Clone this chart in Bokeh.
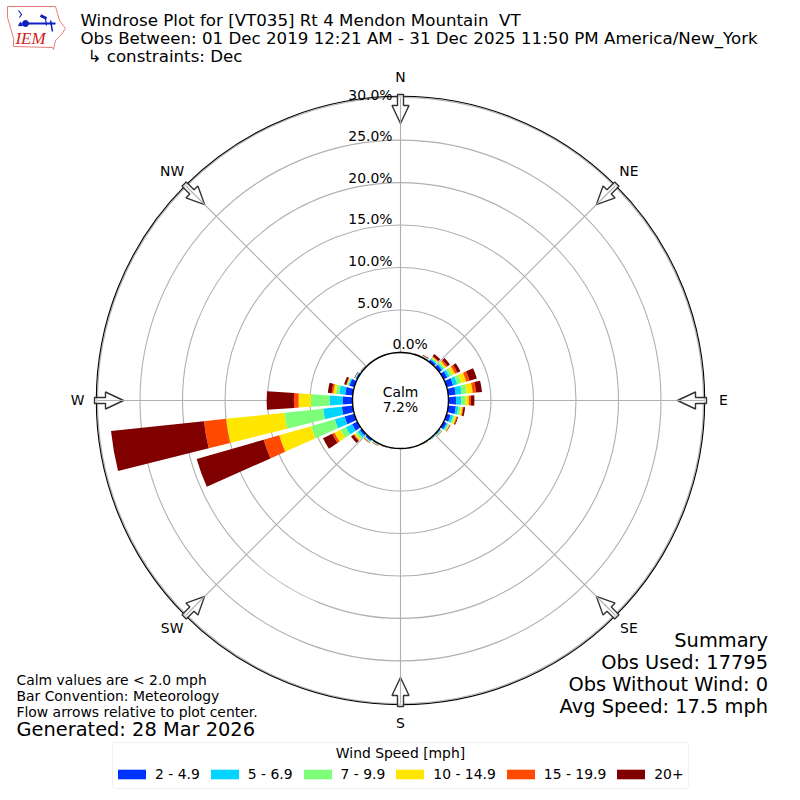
import math
import numpy as np
from bokeh.plotting import figure
from bokeh.embed import file_html
from bokeh.resources import INLINE
from bokeh.core.properties import value
from bokeh.models import Legend, LegendItem, BoxAnnotation

directions = list(range(0, 360, 10))
bin_labels = ["2 - 4.9", "5 - 6.9", "7 - 9.9", "10 - 14.9", "15 - 19.9", "20+"]
bin_colors = ["#0033ff", "#00d4ff", "#7dff7a", "#ffe600", "#ff4a00", "#800000"]
freq_2_5 = [.03,.03,.05,.1,.3,.4,.5,.8,.9,.9,.9,.5,.4,.15,.1,.05,.04,.03,.02,.03,.05,.12,.25,.3,.7,1.2,1.3,1.18,.9,.6,.2,.1,.05,.04,.03,.03]
freq_5_7 = [.02,.02,.03,.05,.15,.2,.3,.5,.7,.6,.3,.3,.15,.1,.05,.05,.03,.02,.01,.02,.03,.06,.1,.3,.8,1.2,2.2,1.52,.7,.15,.08,.03,.03,.02,.02,.01]
freq_7_10 = [.01,.01,.02,.05,.15,.2,.35,.5,.6,.5,.3,.2,.15,.05,.03,.02,.02,.02,.01,.01,.02,.04,.07,.3,.7,2.9,4.6,2.2,.4,.1,.04,.02,.02,.01,.01,.01]
freq_10_15 = [.01,.01,.02,.05,.1,.2,.35,.6,.7,.4,.2,.2,.1,.05,.02,.02,.01,.01,.01,.01,.02,.04,.06,.2,.8,3.9,6.9,1.45,.3,.1,.03,.02,.01,.01,.01,.01]
freq_15_20 = [0,.01,.01,.03,.1,.2,.3,.4,.4,.25,.1,.1,.05,.03,.01,.01,.01,.01,0,.01,.01,.02,.02,.1,.3,1.9,2.6,.55,.2,.05,.02,.01,.01,0,0,0]
freq_20_up = [.01,.02,.02,.07,.3,.35,.4,.9,.7,.4,.2,.1,.05,.02,.01,.01,.01,.01,.01,.02,.02,.04,.05,.35,1.2,8.2,11,3.2,.45,.25,.05,.02,.01,.01,.01,.01]
bins = [freq_2_5, freq_5_7, freq_7_10, freq_10_15, freq_15_20, freq_20_up]
ring_values = [5, 10, 15, 20, 25, 30]
ring_label_values = [0, 5, 10, 15, 20, 25, 30]
ring_label_y = [343, 302, 260, 218, 177, 135, 94]
compass = ["N", "NE", "E", "SE", "S", "SW", "W", "NW"]
title_lines = ["Windrose Plot for [VT035] Rt 4 Mendon Mountain\u00a0\u00a0VT",
               "Obs Between: 01 Dec 2019 12:21 AM - 31 Dec 2025 11:50 PM America/New_York",
               "\u21b3 constraints: Dec"]
summary_lines = ["Summary", "Obs Used: 17795", "Obs Without Wind: 0", "Avg Speed: 17.5 mph"]
note_lines = ["Calm values are < 2.0 mph", "Bar Convention: Meteorology", "Flow arrows relative to plot center."]

W = 800
SCALE = 8.5           # pixels per percent
HOLE = 48 / SCALE     # the calm circle, in percent units
FONT = value("DejaVu Sans")

p = figure(width=W, height=W, output_backend="svg", toolbar_location=None,
           x_range=(-W / 2 / SCALE, W / 2 / SCALE), y_range=(-W / 2 / SCALE, W / 2 / SCALE),
           min_border=0, outline_line_color=None)
p.axis.visible = False
p.grid.visible = False
p.background_fill_color = "white"


def dx(px):
    return (px - 400) / SCALE


def dy(py):
    return (400 - py) / SCALE


def label(x, y, text, size, align="left", baseline="middle", color="black", font=FONT, style="normal"):
    p.text([dx(x)], [dy(y)], text=[text], text_font=font, text_font_size=f"{size}px",
           text_align=align, text_baseline=baseline, text_color=color, text_font_style=style)


# rings and spokes
GRID = "#b0b0b0"
for v in ring_values:
    p.arc(0, 0, radius=HOLE + v, start_angle=0, end_angle=2 * math.pi, line_color=GRID, line_width=1.1)
for k in range(8):
    a = math.radians(90 - 45 * k)
    r = HOLE + 30
    p.line([0, r * math.cos(a)], [0, r * math.sin(a)], line_color=GRID, line_width=1.1)

# stacked bars
renderers = []
bottom = np.full(len(directions), HOLE)
centers = np.radians(90 - np.array(directions, dtype=float))
half = math.radians(4)
for vals, col in zip(bins, bin_colors):
    top = bottom + np.array(vals)
    r = p.annular_wedge(x=0, y=0, inner_radius=bottom, outer_radius=top,
                        start_angle=centers - half, end_angle=centers + half,
                        fill_color=col, line_color=None)
    renderers.append(r)
    bottom = top

# calm hole
p.circle(0, 0, radius=HOLE, fill_color="white", line_color="black", line_width=1.4)
p.arc(0, 0, radius=HOLE + 30 + 1.2 / SCALE, start_angle=0, end_angle=2 * math.pi, line_color="black", line_width=1.1)

# flow arrows
shape = [(306, -3), (295, -3), (295, -8.5), (277, 0), (295, 8.5), (295, 3), (306, 3)]
xs, ys = [], []
for k in range(8):
    a = math.radians(90 - 45 * k)
    c, s = math.cos(a), math.sin(a)
    xs.append([(rr * c - t * s) / SCALE for rr, t in shape])
    ys.append([(rr * s + t * c) / SCALE for rr, t in shape])
p.patches(xs, ys, fill_color="white", fill_alpha=0.8, line_color="#333333", line_width=1.4)
for k in range(8):
    a = math.radians(90 - 45 * k)
    p.line([277 / SCALE * math.cos(a), 303 / SCALE * math.cos(a)],
           [277 / SCALE * math.sin(a), 303 / SCALE * math.sin(a)], line_color=GRID, line_width=1.1)

# labels
for k, name in enumerate(compass):
    a = math.radians(90 - 45 * k)
    label(400 + 323 * math.cos(a), 399 - 323 * math.sin(a), name, 13.9, align="center")
for v, y in zip(ring_label_values, ring_label_y):
    if v == 0:
        label(392, y, f"{v:.1f}%", 13.9, align="left")
    else:
        label(392, y, f"{v:.1f}%", 13.9, align="right")
label(400, 391, "Calm", 13.9, align="center")
label(400, 406, "7.2%", 13.9, align="center")

for line, y, x in zip(title_lines, [20, 38, 56], [80, 80, 87]):
    label(x, y, line, 16.67)
for line, y in zip(summary_lines, [640, 662, 684, 706]):
    label(767.5, y, line, 19.4, align="right")
for line, y in zip(note_lines, [679, 695, 711]):
    label(16, y, line, 13.9)
label(16, 729, "Generated: 28 Mar 2026", 19.4)

# logo
iowa_x = [7, 55, 57, 59, 65, 60, 55, 53, 52, 13, 13, 10, 7]
iowa_y = [6, 6, 13, 20, 28, 35, 40, 49, 47, 46, 38, 27, 17]
p.patch([dx(a) for a in iowa_x], [dy(b) for b in iowa_y], fill_color="white", line_color="#e87a7a", line_width=1)
BLUE = "#1020c0"
p.line([dx(25), dx(55)], [dy(23), dy(23)], line_color=BLUE, line_width=2)
p.line([dx(18), dx(21), dx(19)], [dy(10), dy(14), dy(17)], line_color=BLUE, line_width=1.2)
p.line([dx(40), dx(46)], [dy(15), dy(18)], line_color=BLUE, line_width=3)
p.line([dx(45), dx(46)], [dy(18), dy(25)], line_color=BLUE, line_width=1.2)
p.line([dx(50), dx(52)], [dy(20), dy(31)], line_color=BLUE, line_width=1.5)
p.scatter([dx(25)], [dy(23)], size=6, color=BLUE)
p.scatter([dx(20)], [dy(24)], size=4, color=BLUE, marker="triangle")
label(30, 38, "IEM", 17, align="center", color="#d02020", font=value("Liberation Serif"), style="italic")

# legend
p.add_layout(BoxAnnotation(left=112, right=688, top=W - 742, bottom=W - 788,
                           left_units="screen", right_units="screen", top_units="screen", bottom_units="screen",
                           fill_color="white", fill_alpha=0.8, line_color="#cccccc", line_width=1,
                           border_radius=3, level="underlay"))
label(400, 752, "Wind Speed [mph]", 13.9, align="center")
items = [LegendItem(label=l, renderers=[r]) for l, r in zip(bin_labels, renderers)]
legend = Legend(items=items, orientation="horizontal", location=(114, 18), margin=0, padding=6,
                spacing=7, glyph_width=35, glyph_height=12, label_standoff=6,
                label_text_font="DejaVu Sans", label_text_font_size="13.9px", label_text_color="black",
                border_line_color=None, background_fill_alpha=0)
p.add_layout(legend, "center")

open("out.html", "w").write(file_html(p, INLINE))
